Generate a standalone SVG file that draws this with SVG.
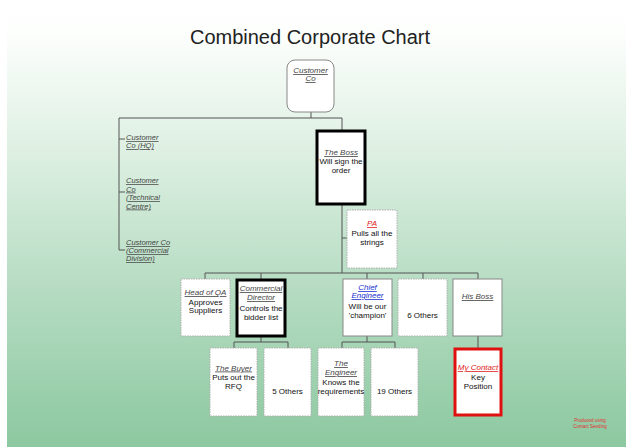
<svg xmlns="http://www.w3.org/2000/svg" width="626" height="447" viewBox="0 0 626 447">
<defs>
<linearGradient id="bg" x1="0" y1="0" x2="0" y2="1">
<stop offset="0" stop-color="#ffffff"/>
<stop offset="0.08" stop-color="#fcfefc"/>
<stop offset="0.35" stop-color="#dcefe1"/>
<stop offset="0.65" stop-color="#b5dcc2"/>
<stop offset="1" stop-color="#8cc8a0"/>
</linearGradient>
<style>
text{font-family:"Liberation Sans",Arial,sans-serif;}
.t{font-size:8px;fill:#111;text-anchor:middle;}
.n{font-size:8px;fill:#444;font-style:italic;text-decoration:underline;text-anchor:middle;}
.l{font-size:7.5px;fill:#444;font-style:italic;text-decoration:underline;}
.red{fill:#e02020;}
.blue{fill:#2030d0;}
.box{fill:#fff;stroke:#b0b0b0;stroke-width:1;stroke-dasharray:1.5 1;}
.solid{fill:#fff;stroke:#888;stroke-width:1;}
.thick{fill:#fff;stroke:#000;stroke-width:3;}
.hot{fill:#fff;stroke:#e01010;stroke-width:3;}
.c{fill:none;stroke:#555;stroke-width:1;}
</style>
</defs>
<rect x="0" y="0" width="626" height="447" fill="url(#bg)"/>
<rect x="0" y="0" width="7" height="447" fill="#ffffff"/>
<text x="310" y="44" style="font-size:20px;fill:#222;text-anchor:middle;">Combined Corporate Chart</text>

<g id="connectors">
<path class="c" d="M311 112V118M119 118H342V131M119 118V250M119 139H125M119 192H125M119 250H125"/>
<path class="c" d="M342 204V273M342 238H347M205 273H478M205 273V279M261 273V279M367 273V279M423 273V279M478 273V279"/>
<path class="c" d="M261 336V342M234 342H288M234 342V348M288 342V348"/>
<path class="c" d="M367 336V342M342 342H395M342 342V348M395 342V348"/>
<path class="c" d="M478 336V349"/>
</g>

<g id="customer-co">
<rect class="solid" x="287" y="60" width="47" height="52" rx="8" stroke="#999"/>
<text class="n" x="310.5" y="73">Customer</text>
<text class="n" x="310.5" y="81">Co</text>
</g>

<g id="customer-hq">
<text class="l" x="126" y="140">Customer</text>
<text class="l" x="126" y="148">Co (HQ)</text>
</g>
<g id="customer-tech">
<text class="l" x="126" y="183">Customer</text>
<text class="l" x="126" y="191.5">Co</text>
<text class="l" x="126" y="200">(Technical</text>
<text class="l" x="126" y="208.5">Centre)</text>
</g>
<g id="customer-comm">
<text class="l" x="126" y="245">Customer Co</text>
<text class="l" x="126" y="253">(Commercial</text>
<text class="l" x="126" y="261">Division)</text>
</g>

<g id="the-boss">
<rect class="thick" x="317" y="131" width="48" height="73"/>
<text class="n" x="341" y="155">The Boss</text>
<text class="t" x="341" y="164">Will sign the</text>
<text class="t" x="341" y="173">order</text>
</g>

<g id="pa">
<rect class="box" x="347" y="210" width="50" height="58"/>
<text class="n red" x="372" y="226">PA</text>
<text class="t" x="372" y="235.5">Pulls all the</text>
<text class="t" x="372" y="244.5">strings</text>
</g>

<g id="head-of-qa">
<rect class="box" x="181" y="279" width="49" height="57"/>
<text class="n" x="205.5" y="295">Head of QA</text>
<text class="t" x="205.5" y="304.5">Approves</text>
<text class="t" x="205.5" y="312.5">Suppliers</text>
</g>

<g id="commercial-director">
<rect class="thick" x="237" y="280" width="48" height="56"/>
<text class="n" x="261" y="291">Commercial</text>
<text class="n" x="261" y="300">Director</text>
<text class="t" x="261" y="311">Controls the</text>
<text class="t" x="261" y="320">bidder list</text>
</g>

<g id="chief-engineer">
<rect class="solid" x="343" y="279" width="49" height="57"/>
<text class="n blue" x="367.5" y="290">Chief</text>
<text class="n blue" x="367.5" y="298">Engineer</text>
<text class="t" x="367.5" y="309">Will be our</text>
<text class="t" x="367.5" y="318">'champion'</text>
</g>

<g id="six-others">
<rect class="box" x="398" y="279" width="49" height="57"/>
<text class="t" x="422.5" y="318">6 Others</text>
</g>

<g id="his-boss">
<rect class="solid" x="453" y="279" width="49" height="57" stroke="#777"/>
<text class="n" x="477.5" y="299">His Boss</text>
</g>

<g id="the-buyer">
<rect class="box" x="210" y="348" width="47" height="68"/>
<text class="n" x="233.5" y="370.5">The Buyer</text>
<text class="t" x="233.5" y="380">Puts out the</text>
<text class="t" x="233.5" y="389">RFQ</text>
</g>

<g id="five-others">
<rect class="box" x="264" y="348" width="47" height="68"/>
<text class="t" x="287.5" y="394">5 Others</text>
</g>

<g id="the-engineer">
<rect class="box" x="318" y="348" width="46" height="68"/>
<text class="n" x="341" y="366">The</text>
<text class="n" x="341" y="375">Engineer</text>
<text class="t" x="341" y="385">Knows the</text>
<text class="t" x="341" y="394">requirements</text>
</g>

<g id="nineteen-others">
<rect class="box" x="371" y="348" width="47" height="68"/>
<text class="t" x="394.5" y="394">19 Others</text>
</g>

<g id="my-contact">
<rect class="hot" x="455" y="349" width="46" height="66"/>
<text class="n red" x="478" y="370">My Contact</text>
<text class="t" x="478" y="380">Key</text>
<text class="t" x="478" y="389">Position</text>
</g>

<text x="590" y="422" style="font-size:4.5px;fill:#e03030;text-anchor:middle;">Produced using</text>
<text x="590" y="428" style="font-size:4.5px;fill:#e03030;text-anchor:middle;">Contact Seeding</text>
</svg>
